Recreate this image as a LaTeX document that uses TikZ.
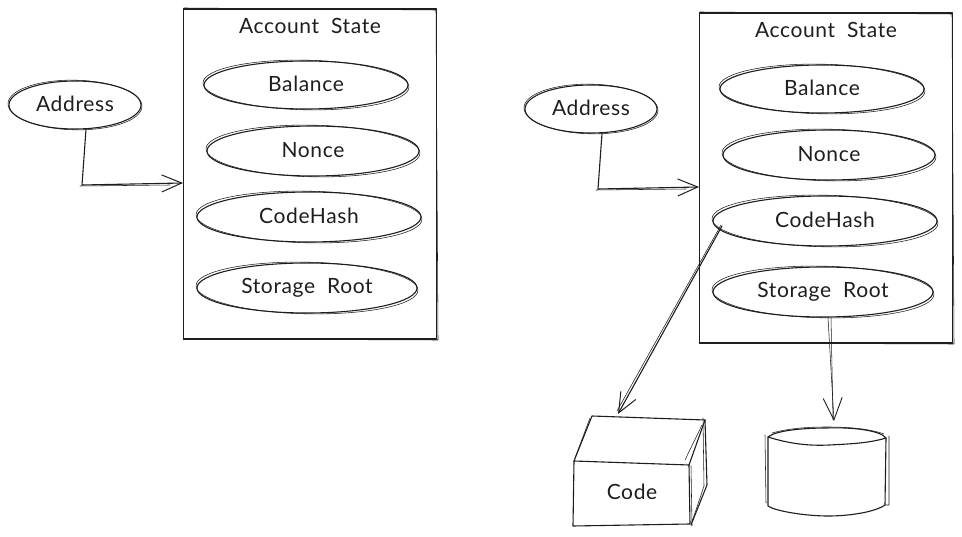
\documentclass[tikz,border=0pt]{standalone}
\usepackage{fontspec}
\setmainfont[LetterSpace=3]{Lato}
\usetikzlibrary{shapes.geometric,arrows.meta,calc}
\definecolor{ink}{HTML}{1E1E1E}
\tikzset{
  ink1/.style={draw=ink,line width=1.1pt,line join=round,line cap=round},
  ink2/.style={draw=ink,line width=.55pt,line cap=round,line join=round},
  bub/.style={ellipse,ink1,inner sep=0pt,font=\fontsize{21}{23}\selectfont,text=ink},
  statebox/.style={rectangle,ink1,minimum width=253pt,minimum height=330pt,inner sep=0pt},
  lab/.style={font=\fontsize{21}{23}\selectfont,text=ink,inner sep=0pt},
  arr/.style={ink1,-{Straight Barb[length=20pt,width=17pt,line width=1pt]}},
  arr2/.style={ink2,-{Straight Barb[length=22pt,width=19pt,line width=.9pt]}},
}
% centre x, centre y, rx, ry, name, text
\newcommand{\skbub}[6]{%
  \node[bub,minimum width=#3*2pt,minimum height=#4*2pt] (#5) at (#1,#2) {\raisebox{1.5pt}{#6}};
  \draw[ink2,rotate around={-1.2:(#1,#2)}] (#1,#2) ellipse [x radius=#3+1,y radius=#4+.8];
}
% x offset, y offset, suffix
\newcommand{\skstate}[3]{%
  \node[statebox] (box#3) at (#1+310,#2+174) {};
  \draw[ink2] (#1+184,#2+8) -- (#1+436,#2+10) -- (#1+438,#2+340) -- (#1+183,#2+339);
  \node[lab] (title#3) at (#1+310,#2+26) {Account\hspace{6pt} State};
  \skbub{#1+306}{#2+85}{102}{24}{bal#3}{Balance}
  \skbub{#1+313}{#2+151}{106}{25}{non#3}{Nonce}
  \skbub{#1+309}{#2+217}{112}{25}{cod#3}{CodeHash}
  \skbub{#1+307}{#2+288}{110}{25}{sto#3}{Storage\hspace{6pt} Root}
  \skbub{#1+75}{#2+105}{66}{24}{adr#3}{Address}
  \coordinate (in#3) at (#1+183,#2+183);
  \coordinate (bend#3) at (#1+82,#2+185);
  \draw[arr] ([xshift=11pt]adr#3.south) -- (bend#3) -- (in#3);
  \draw[ink2] (#1+80,#2+186) -- (#1+170,#2+185);
}
\begin{document}
\begin{tikzpicture}[x=1pt,y=-1pt]
\useasboundingbox (0,0) rectangle (962,537);
\fill[white] (0,0) rectangle (962,537);
\skstate{0}{0}{L}
\skstate{516}{4}{R}
% code box
\node[lab] (code) at (632,492) {Code};
\draw[ink1] (574,461) -- (689,465) -- (690,524) -- (573,526) -- cycle;
\draw[ink1] (574,461) -- (592,416) -- (705,420) -- (689,465);
\draw[ink1] (705,420) -- (707,485) -- (691,525);
\draw[ink2] (575,458) -- (590,418) (703,418) -- (704,486) -- (692,522) (685,460) -- (702,425) (691,466) -- (692,526);
% cylinder
\node[inner sep=0pt,minimum width=120pt,minimum height=88pt] (db) at (827,472) {};
\draw[ink1] (768,437) .. controls (790,444) and (810,446) .. (829,445)
  .. controls (850,444) and (870,443) .. (886,438)
  .. controls (880,430) and (850,427) .. (827,428)
  .. controls (800,428) and (775,431) .. (768,437);
\draw[ink1] (768,437) -- (768,506) .. controls (775,511) and (805,516) .. (828,516)
  .. controls (850,516) and (875,512) .. (885,505) -- (886,438);
\draw[ink2] (765,435) -- (766,503) (889,436) -- (889,505) -- (885,505);
\draw[ink2] (772,433) .. controls (790,428) and (810,427) .. (827,427) .. controls (850,427) and (870,429) .. (884,434);
% connectors
\coordinate (codetop) at (618,414);
\coordinate (dbtop) at (834,421);
\draw[arr] ([shift={(-103,5)}]codR.center) -- (codetop);
\draw[ink2] ([shift={(-104,4)}]codR.center) -- ([shift={(-1,-3)}]codetop);
\draw[arr2] ([xshift=5pt]stoR.south) -- (dbtop);
\draw[ink2] ([xshift=8pt]stoR.south) -- (833,420);
\end{tikzpicture}
\end{document}
